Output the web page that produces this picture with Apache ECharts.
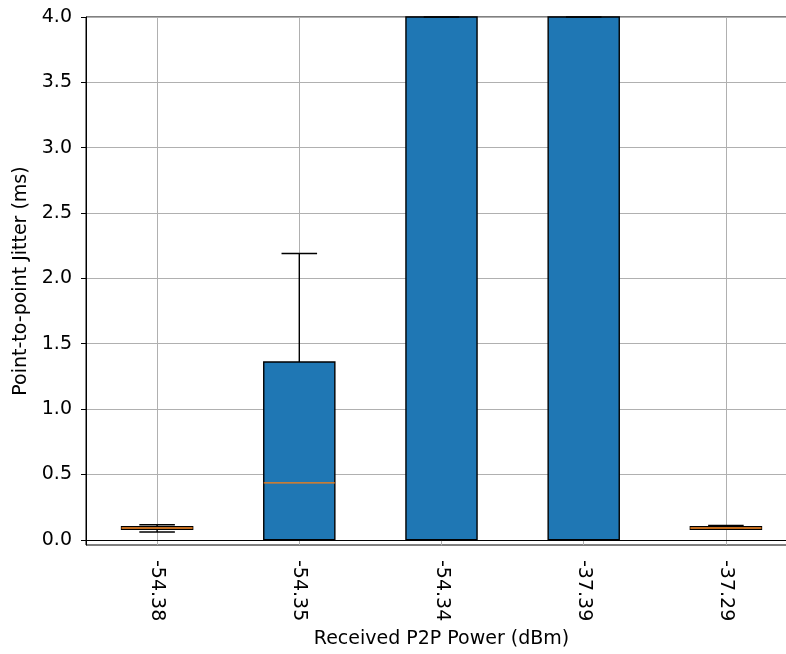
<!DOCTYPE html>
<html>
<head>
<meta charset="utf-8">
<script src="https://cdn.jsdelivr.net/npm/echarts@6/dist/echarts.min.js"></script>
<style>
  html, body { margin: 0; padding: 0; background: #fff; overflow: hidden; width: 786px; height: 654px; }
  /* the plot's right spine sits just past the visible page edge */
  #chart { width: 797px; height: 654px; }
</style>
</head>
<body>
<div id="chart"></div>
<script>
// Received power per link (x categories)
const categories = ['-54.38', '-54.35', '-54.34', '-37.39', '-37.29'];
// Box statistics of point-to-point jitter (ms)
const whiskerLow  = [0.06, 0.0,  0.0, 0.0, 0.08];
const q1          = [0.08, 0.0,  0.0, 0.0, 0.08];
const median      = [0.09, 0.435, 4.9, 5.3, 0.09];
const q3          = [0.10, 1.36, 7.2, 7.8, 0.10];
const whiskerHigh = [0.115, 2.19, 12.5, 13.5, 0.11];
// Y tick labels
const yTicks = [0, 0.5, 1, 1.5, 2, 2.5, 3, 3.5, 4];

const FONT = 'DejaVu Sans';
const FS = 19;
const boxData = categories.map((c, i) => [i, whiskerLow[i], q1[i], median[i], q3[i], whiskerHigh[i]]);

function renderBox(params, api) {
  const cs = params.coordSys;
  const top = cs.y, bottom = cs.y + cs.height;
  const clampY = (y) => Math.max(top, Math.min(bottom, y));
  const idx = api.value(0);
  const band = api.size([1, 0])[0];
  const half = band * 0.25;
  const capHalf = band * 0.125;
  const cx = api.coord([idx, 0])[0];
  const y = (v) => clampY(api.coord([idx, v])[1]);
  const yLow = y(api.value(1)), yQ1 = y(api.value(2)), yMed = y(api.value(3));
  const yQ3 = y(api.value(4)), yHigh = y(api.value(5));
  const lineStyle = { stroke: '#000', lineWidth: 1.4 };
  const children = [
    { type: 'rect', shape: { x: cx - half, y: yQ3, width: half * 2, height: yQ1 - yQ3 },
      style: { fill: '#1f77b4', stroke: '#000', lineWidth: 1.4 } },
    { type: 'line', shape: { x1: cx, y1: yQ1, x2: cx, y2: yLow }, style: lineStyle },
    { type: 'line', shape: { x1: cx, y1: yQ3, x2: cx, y2: yHigh }, style: lineStyle },
    { type: 'line', shape: { x1: cx - capHalf, y1: yLow, x2: cx + capHalf, y2: yLow }, style: lineStyle },
    { type: 'line', shape: { x1: cx - capHalf, y1: yHigh, x2: cx + capHalf, y2: yHigh }, style: lineStyle }
  ];
  if (api.value(3) <= 4) {
    children.push({ type: 'line', shape: { x1: cx - half, y1: yMed, x2: cx + half, y2: yMed },
      style: { stroke: '#ff7f0e', lineWidth: 1.4 } });
  }
  return { type: 'group', children };
}

const chart = echarts.init(document.getElementById('chart'), null, { renderer: 'canvas' });
chart.setOption({
  animation: false,
  backgroundColor: '#fff',
  grid: {
    left: 86, top: 17, right: 0, bottom: 109,
    show: true, borderColor: '#000', borderWidth: 1, backgroundColor: 'transparent'
  },
  xAxis: {
    type: 'category',
    data: categories,
    boundaryGap: true,
    name: 'Received P2P Power (dBm)',
    nameLocation: 'middle',
    nameGap: 81,
    nameTextStyle: { fontFamily: FONT, fontSize: FS, color: '#000' },
    axisLine: { lineStyle: { color: '#000', width: 1 } },
    axisTick: { alignWithLabel: true, length: 5, lineStyle: { color: '#000', width: 1 } },
    axisLabel: { rotate: -90, margin: 15, fontFamily: FONT, fontSize: FS, color: '#000' },
    splitLine: { show: true, alignWithLabel: true, lineStyle: { color: '#b0b0b0', width: 1 } }
  },
  yAxis: {
    type: 'value',
    min: -0.04,
    max: 4.0,
    splitNumber: 8,
    name: 'Point-to-point Jitter (ms)',
    nameLocation: 'middle',
    nameGap: 51,
    nameTextStyle: { fontFamily: FONT, fontSize: FS, color: '#000' },
    axisLine: { show: true, lineStyle: { color: '#000', width: 1 } },
    axisTick: { show: true, length: 5, customValues: yTicks, lineStyle: { color: '#000', width: 1 } },
    axisLabel: {
      customValues: yTicks, margin: 14, fontFamily: FONT, fontSize: FS, color: '#000',
      formatter: (v) => v.toFixed(1)
    },
    splitLine: { show: true, lineStyle: { color: '#b0b0b0', width: 1 } }
  },
  series: [{
    type: 'custom',
    renderItem: renderBox,
    encode: { x: 0, y: [1, 2, 3, 4, 5] },
    data: boxData,
    z: 3
  }]
});
</script>
</body>
</html>
